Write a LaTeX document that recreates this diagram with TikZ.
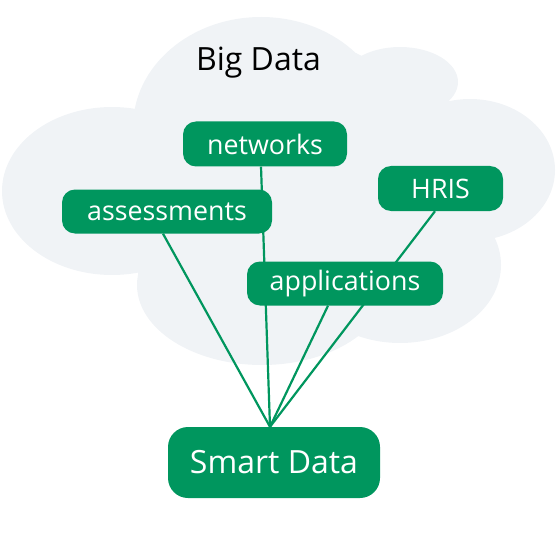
\documentclass[tikz,border=0pt]{standalone}
\usepackage{fontspec}
\setmainfont{Open Sans}
\definecolor{gr}{RGB}{0,150,94}
\definecolor{cl}{RGB}{240,243,246}
\pgfdeclarelayer{cloudl}
\pgfdeclarelayer{linkl}
\pgfsetlayers{cloudl,linkl,main}
\begin{document}
\begin{tikzpicture}[x=1pt,y=-1pt,
  box/.style={fill=gr, rounded corners=13pt, text=white, inner sep=0pt,
    font=\fontsize{26.8}{32}\selectfont},
  bigbox/.style={box, rounded corners=20pt, font=\fontsize{32}{38}\selectfont},
  link/.style={draw=gr, line width=2.2pt},
  lobe/.style={fill=cl, draw=none}]
\useasboundingbox (0,0) rectangle (556,556);
% nodes
\node[box, minimum width=164pt, minimum height=45pt] (net) at (265,144) {networks};
\node[box, minimum width=210pt, minimum height=44pt] (ass) at (167,211.5) {assessments};
\node[box, minimum width=125pt, minimum height=45pt] (hris) at (440.5,188.5) {HRIS};
\node[box, minimum width=196pt, minimum height=44pt] (app) at (345,283.5) {applications};
\node[bigbox, minimum width=212pt, minimum height=71pt] (sd) at (274,462.5) {Smart Data};
\node[anchor=base, font=\fontsize{32}{38}\selectfont, text=black] (bd) at (258.5,71) {Big Data};
\coordinate (hub) at ([xshift=-4pt]sd.north);
% connectors
\begin{pgfonlayer}{linkl}
\draw[link] ([xshift=-4pt]ass.south) -- (hub);
\draw[link] ([xshift=-4pt]net.south) -- (hub);
\draw[link] ([xshift=-17pt]app.south) -- (hub);
\draw[link] ([xshift=-5.5pt]hris.south) -- (hub);
\end{pgfonlayer}
% cloud
\begin{pgfonlayer}{cloudl}
\fill[lobe] (261,127) ellipse [x radius=128pt, y radius=110pt];
\fill[lobe] (400,82) ellipse [x radius=58pt, y radius=35pt];
\fill[lobe] (470,170) ellipse [x radius=85pt, y radius=71pt];
\fill[lobe] (400,265) ellipse [x radius=101pt, y radius=78pt];
\fill[lobe] (262,285) ellipse [x radius=125pt, y radius=80pt];
\fill[lobe] (112,191) ellipse [x radius=110pt, y radius=84pt];
\fill[lobe] (138,107) -- (356,53) -- (449,100) -- (492,240) -- (358,336) -- (138,275) -- cycle;
\end{pgfonlayer}
\end{tikzpicture}
\end{document}
